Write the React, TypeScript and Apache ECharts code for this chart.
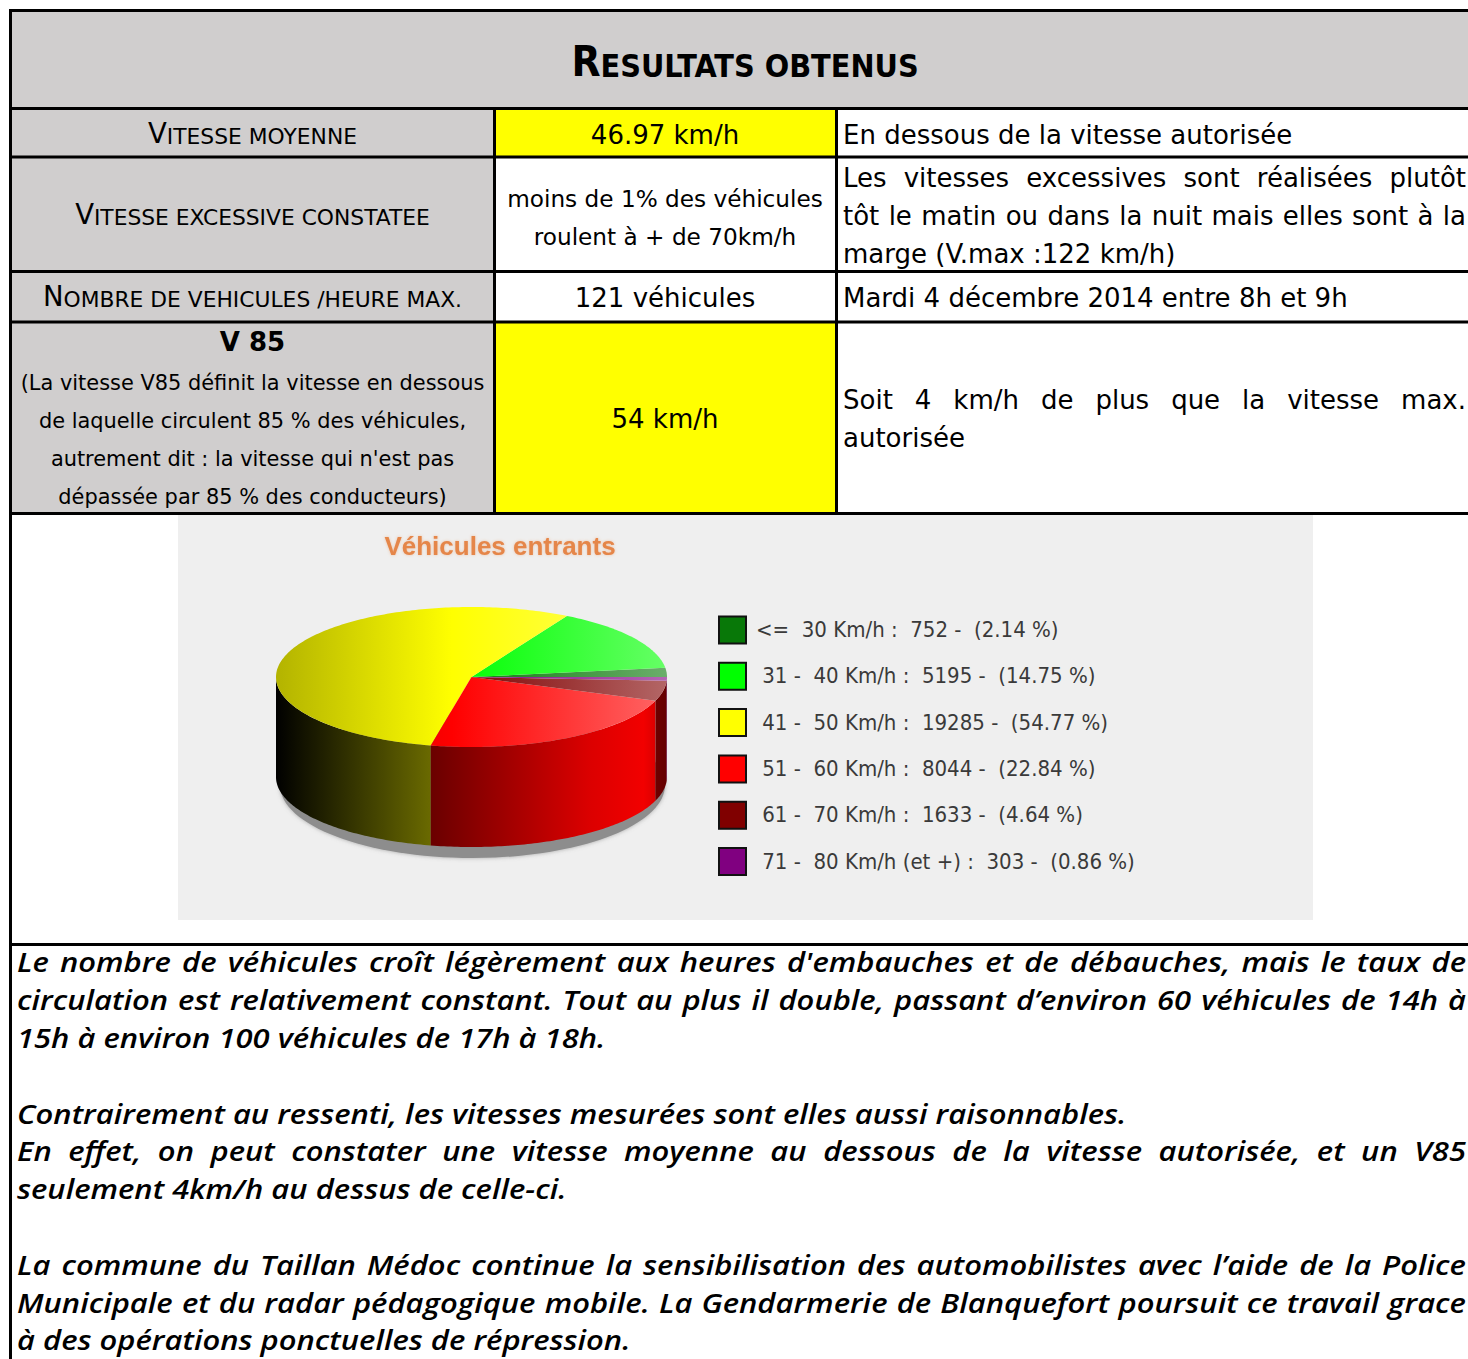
import React, { useEffect, useRef } from 'react';
import * as echarts from 'echarts';

const PAGE_W = 1468;
const PAGE_H = 1359;

// ---------------- data ----------------
const titleText = 'RESULTATS OBTENUS';
const rowLabels = ['VITESSE MOYENNE', 'VITESSE EXCESSIVE CONSTATEE', 'NOMBRE DE VEHICULES /HEURE MAX.'];
const v85Title = 'V 85';
const v85Lines = [
  '(La vitesse V85 définit la vitesse en dessous',
  'de laquelle circulent 85 % des véhicules,',
  "autrement dit : la vitesse qui n'est pas",
  'dépassée par 85 % des conducteurs)',
];
const valueLines = [
  ['46.97 km/h'],
  ['moins de 1% des véhicules', 'roulent à + de 70km/h'],
  ['121 véhicules'],
  ['54 km/h'],
];
const commentLines: [string, boolean][][] = [
  [['En dessous de la vitesse autorisée', false]],
  [
    ['Les vitesses excessives sont réalisées plutôt', true],
    ['tôt le matin ou dans la nuit mais elles sont à la', true],
    ['marge (V.max :122 km/h)', false],
  ],
  [['Mardi 4 décembre 2014 entre 8h et 9h', false]],
  [
    ['Soit 4 km/h de plus que la vitesse max.', true],
    ['autorisée', false],
  ],
];
const chartTitle = 'Véhicules entrants';
const categories = ['<=  30 Km/h', ' 31 -  40 Km/h', ' 41 -  50 Km/h', ' 51 -  60 Km/h', ' 61 -  70 Km/h', ' 71 -  80 Km/h (et +)'];
const counts = [752, 5195, 19285, 8044, 1633, 303];
const percents = [2.14, 14.75, 54.77, 22.84, 4.64, 0.86];
const sliceColors = ['#087808', '#00ff00', '#ffff00', '#ff0000', '#800000', '#800080'];
const paragraphLines: [string, boolean][] = [
  ["Le nombre de véhicules croît légèrement aux heures d'embauches et de débauches, mais le taux de", true],
  ['circulation est relativement constant. Tout au plus il double, passant d’environ 60 véhicules de 14h à', true],
  ['15h à environ 100 véhicules de 17h à 18h.', false],
  ['', false],
  ['Contrairement au ressenti, les vitesses mesurées sont elles aussi raisonnables.', false],
  ['En effet, on peut constater une vitesse moyenne au dessous de la vitesse autorisée, et un V85', true],
  ['seulement 4km/h au dessus de celle-ci.', false],
  ['', false],
  ['La commune du Taillan Médoc continue la sensibilisation des automobilistes avec l’aide de la Police', true],
  ['Municipale et du radar pédagogique mobile. La Gendarmerie de Blanquefort poursuit ce travail grace', true],
  ['à des opérations ponctuelles de répression.', false],
];

// ---------------- layout ----------------
const F_REG = '"DejaVu Sans", "Noto Sans", sans-serif';
const F_COND = '"DejaVu Sans Condensed", "DejaVu Sans", sans-serif';
const F_ARIAL = '"Liberation Sans", Arial, sans-serif';
const F_PARA = '"Open Sans", "DejaVu Sans", sans-serif';

const COL1_C = 252.5;
const COL2_C = 665;
const COL3_X = 843;
const COL3_R = 1466;
const PARA_X = 17;
const PARA_R = 1466;
const PARA_Y0 = 962;
const PARA_STEP = 37.8;
const PARA_SIZE = 27.5;
const PARA_FIT_LINE = 4; // this unjustified line spans PARA_FIT_W px in the reference
const PARA_FIT_W = 1110;

const PIE = { cx: 471.5, cy: 677, rx: 195.5, ry: 70, depth: 100, start: 0 };

let measureCtx: CanvasRenderingContext2D | null = null;
function measure(text: string, font: string): number {
  if (!measureCtx) measureCtx = document.createElement('canvas').getContext('2d');
  measureCtx!.font = font;
  return measureCtx!.measureText(text).width;
}

function hexToRgb(hex: string): number[] {
  const h = hex.replace('#', '');
  return [0, 2, 4].map((i) => parseInt(h.slice(i, i + 2), 16));
}
function shade(hex: string, f: number): string {
  const [r, g, b] = hexToRgb(hex);
  return `rgb(${Math.round(r * f)},${Math.round(g * f)},${Math.round(b * f)})`;
}
function tint(hex: string, t: number): string {
  const [r, g, b] = hexToRgb(hex);
  const m = (c: number) => Math.round(c + (255 - c) * t);
  return `rgb(${m(r)},${m(g)},${m(b)})`;
}

type TOpts = { size: number; family?: string; weight?: string; style?: string; fill?: string; align?: string; sx?: number };

const cssFont = (o: TOpts) => `${o.style || 'normal'} ${o.weight || 'normal'} ${o.size}px ${o.family || F_REG}`;

function txt(text: string, x: number, y: number, o: TOpts): any {
  const el: any = {
    type: 'text',
    x,
    y,
    z: 3,
    silent: true,
    style: {
      text,
      fill: o.fill || '#000',
      fontSize: o.size,
      fontFamily: o.family || F_REG,
      fontWeight: o.weight || 'normal',
      fontStyle: o.style || 'normal',
      align: o.align || 'left',
      verticalAlign: 'middle',
    },
  };
  if (o.sx && o.sx !== 1) el.scaleX = o.sx;
  return el;
}

function lineEls(text: string, x0: number, x1: number, y: number, o: TOpts, justify: boolean): any[] {
  if (!text) return [];
  if (!justify) return [txt(text, x0, y, o)];
  const font = cssFont(o);
  const sx = o.sx || 1;
  const words = text.split(' ').filter((w) => w.length);
  const widths = words.map((w) => measure(w, font) * sx);
  const sum = widths.reduce((a, b) => a + b, 0);
  const gap = (x1 - x0 - sum) / Math.max(1, words.length - 1);
  let x = x0;
  return words.map((w, k) => {
    const el = txt(w, x, y, o);
    x += widths[k] + gap;
    return el;
  });
}

function smallCaps(str: string, x: number, y: number, big: number, small: number, weight: string, family: string): any {
  return {
    type: 'text',
    x,
    y,
    z: 3,
    silent: true,
    style: {
      text: `{b|${str.slice(0, 1)}}{s|${str.slice(1)}}`,
      align: 'center',
      verticalAlign: 'middle',
      rich: {
        b: { fontSize: big, fontWeight: weight, fontFamily: family, fill: '#000', verticalAlign: 'bottom' },
        s: { fontSize: small, fontWeight: weight, fontFamily: family, fill: '#000', verticalAlign: 'bottom' },
      },
    },
  };
}

const nb = (s: string) => s.replace(/ /g, '\u00A0');

function buildOption(): any {
  const g: any[] = [];
  const rect = (x: number, y: number, w: number, h: number, fill: string, z = 0) =>
    g.push({ type: 'rect', z, silent: true, shape: { x, y, width: w, height: h }, style: { fill } });

  // cell backgrounds
  rect(0, 0, PAGE_W, PAGE_H, '#ffffff');
  rect(10, 10, PAGE_W - 10, 98, '#d0cece');
  rect(10, 108, 484, 405, '#d0cece');
  rect(494, 108, 342, 49, '#ffff00');
  rect(494, 322, 342, 191, '#ffff00');
  rect(178, 515, 1135, 405, '#efefef');

  // borders
  const B = '#000000';
  rect(9, 9, PAGE_W - 9, 3, B, 2);
  [107, 155.5, 270, 320.5, 512, 943].forEach((y) => rect(9, y, PAGE_W - 9, 3, B, 2));
  rect(9, 9, 3, PAGE_H - 9, B, 2);
  rect(493, 108, 3, 405, B, 2);
  rect(835, 108, 3, 405, B, 2);

  // title
  g.push(smallCaps(titleText, 745, 61, 42, 32, 'bold', F_COND));

  // column 1 labels
  const labelY = [133, 214, 296];
  rowLabels.forEach((l, i) => g.push(smallCaps(l, COL1_C, labelY[i], 27.5, 21.8, 'normal', F_REG)));
  g.push(txt(v85Title, COL1_C, 342, { size: 26, weight: 'bold', align: 'center' }));
  v85Lines.forEach((l, i) => g.push(txt(l, COL1_C, 383 + i * 38, { size: 20.9, align: 'center' })));

  // column 2 values
  const valueY = [[135], [198, 236], [298], [419]];
  const valueSize = [[26], [23.2, 23.2], [26], [26]];
  valueLines.forEach((lines, r) =>
    lines.forEach((l, k) => g.push(txt(l, COL2_C, valueY[r][k], { size: valueSize[r][k], align: 'center' })))
  );

  // column 3 comments
  const commentY = [[135], [178, 216, 254], [298], [400, 438]];
  commentLines.forEach((lines, r) =>
    lines.forEach(([l, j], k) => g.push(...lineEls(l, COL3_X, COL3_R, commentY[r][k], { size: 26 }, j)))
  );

  // chart title
  g.push({
    type: 'text',
    x: 500,
    y: 546,
    z: 3,
    silent: true,
    style: {
      text: chartTitle,
      fill: '#e5864a',
      fontSize: 26,
      fontWeight: 'bold',
      fontFamily: F_ARIAL,
      align: 'center',
      verticalAlign: 'middle',
      textShadowColor: 'rgba(230,140,80,0.45)',
      textShadowBlur: 3,
    },
  });

  // pie shadow
  g.push({
    type: 'ellipse',
    z: 1,
    silent: true,
    shape: { cx: PIE.cx + 1, cy: PIE.cy + PIE.depth + 8, rx: PIE.rx - 3, ry: PIE.ry + 3 },
    style: { fill: '#8d8d8d', shadowBlur: 4, shadowColor: 'rgba(120,120,120,0.6)' },
  });

  // legend
  counts.forEach((c, i) => {
    const ly = 629.5 + i * 46.3;
    g.push({
      type: 'rect',
      z: 3,
      silent: true,
      shape: { x: 719, y: ly - 13, width: 27, height: 27 },
      style: { fill: sliceColors[i], stroke: '#111', lineWidth: 2 },
    });
    const label = `${categories[i]} :  ${c} -  (${percents[i].toFixed(2)} %)`;
    g.push(txt(nb(label), 756, ly, { size: 22, family: F_COND, fill: '#3a3a3a' }));
  });

  // paragraph (horizontal scale fitted so one unjustified line matches its reference width)
  const paraBase: TOpts = { size: PARA_SIZE, style: 'italic', weight: '600', family: F_PARA };
  const w0 = measure(paragraphLines[PARA_FIT_LINE][0], cssFont(paraBase));
  const paraOpts: TOpts = { ...paraBase, sx: Math.round((PARA_FIT_W / w0) * 1000) / 1000 };
  paragraphLines.forEach(([l, j], k) =>
    g.push(...lineEls(l, PARA_X, PARA_R, PARA_Y0 + k * PARA_STEP, paraOpts, j))
  );

  const total = counts.reduce((a, b) => a + b, 0);
  const cumStart = counts.map((_, i) => counts.slice(0, i).reduce((a, b) => a + b, 0));
  const x0 = PIE.cx - PIE.rx;
  const x1 = PIE.cx + PIE.rx;

  const pt = (deg: number, dy: number) => {
    const r = (deg * Math.PI) / 180;
    return [PIE.cx + PIE.rx * Math.cos(r), PIE.cy + PIE.ry * Math.sin(r) + dy];
  };
  const arc = (from: number, to: number, dy: number) => {
    const n = Math.max(2, Math.ceil(Math.abs(to - from)));
    const pts: number[][] = [];
    for (let s = 0; s <= n; s++) pts.push(pt(from + ((to - from) * s) / n, dy));
    return pts;
  };

  const renderItem = (params: any, api: any) => {
    const i = params.dataIndex;
    const v = api.value(0);
    const color = sliceColors[i];
    // slices run counter-clockwise on screen from the start angle
    const hi = PIE.start - (cumStart[i] / total) * 360;
    const lo = hi - (v / total) * 360;
    const children: any[] = [];

    // visible outer wall: screen angles in (0,180) modulo 360
    for (let k = Math.floor(lo / 360) - 1; k <= Math.ceil(hi / 360); k++) {
      const a = Math.max(lo, k * 360);
      const b = Math.min(hi, k * 360 + 180);
      if (b > a) {
        const pts = arc(a, b, 0).concat(arc(b, a, PIE.depth));
        children.push({
          type: 'polygon',
          shape: { points: pts },
          style: {
            fill: new echarts.graphic.LinearGradient(x0, 0, x1, 0, [
              { offset: 0, color: shade(color, 0.0) },
              { offset: 0.4, color: shade(color, 0.42) },
              { offset: 0.8, color: shade(color, 0.86) },
              { offset: 0.94, color: shade(color, 0.95) },
              { offset: 1, color: shade(color, 0.78) },
            ], true),
          },
        });
      }
    }

    // top face
    const top = [[PIE.cx, PIE.cy]].concat(arc(hi, lo, 0));
    children.push({
      type: 'polygon',
      shape: { points: top },
      style: {
        fill: new echarts.graphic.LinearGradient(x0, 0, x1, 0, [
          { offset: 0, color: shade(color, 0.7) },
          { offset: 0.45, color: color },
          { offset: 1, color: tint(color, 0.4) },
        ], true),
      },
    });
    return { type: 'group', children };
  };

  return {
    animation: false,
    graphic: g,
    series: [
      {
        type: 'custom',
        coordinateSystem: 'none',
        z: 5,
        silent: true,
        data: counts.map((c, i) => ({ name: categories[i], value: [c, i] })),
        renderItem,
      },
    ],
  };
}

export default function App() {
  const ref = useRef<HTMLDivElement>(null);
  useEffect(() => {
    const chart = echarts.init(ref.current!, null, { renderer: 'svg' });
    chart.setOption(buildOption());
    return () => chart.dispose();
  }, []);
  return <div ref={ref} style={{ position: 'absolute', left: 0, top: 0, width: PAGE_W, height: PAGE_H }} />;
}
